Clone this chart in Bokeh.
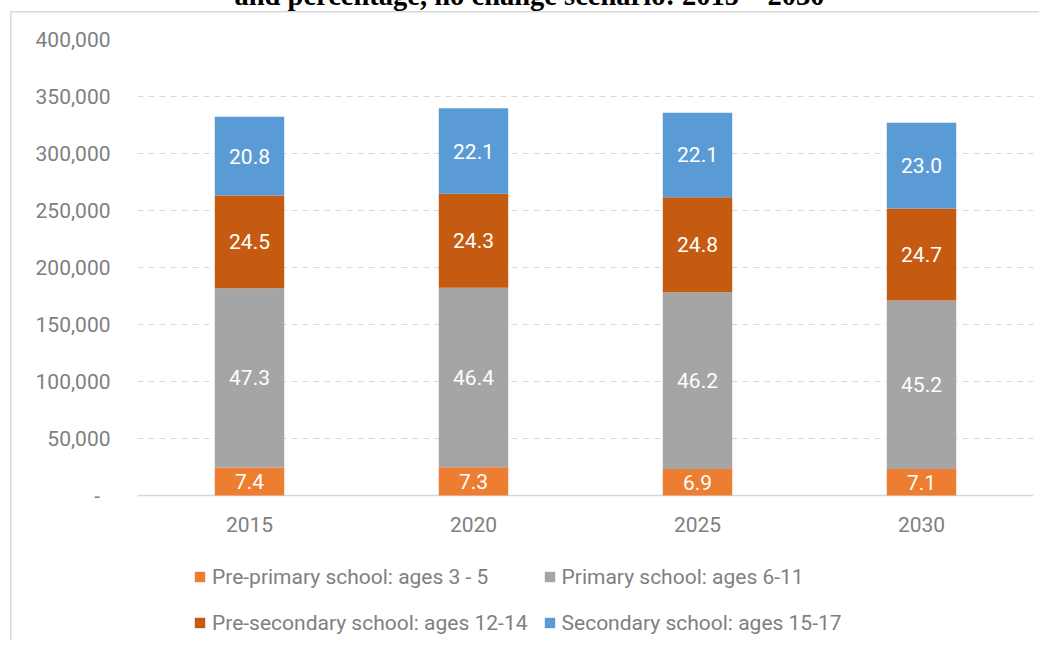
from bokeh.plotting import figure
from bokeh.models import (ColumnDataSource, Legend, LegendItem, FixedTicker, Span,
                          CustomJSTickFormatter, Range1d, FactorRange)
from bokeh.core.properties import value
from bokeh.embed import file_html
from bokeh.resources import INLINE

# ---------------- data ----------------
years = ["2015", "2020", "2025", "2030"]
series_names = ["Pre-primary school: ages 3 - 5", "Primary school: ages 6-11",
                "Pre-secondary school: ages 12-14", "Secondary school: ages 15-17"]
pre_primary = [24600, 24800, 23200, 23200]
primary = [157200, 157400, 155100, 147800]
pre_secondary = [81400, 82400, 83300, 80800]
secondary = [69100, 75000, 74200, 75200]
pct_pre_primary = ["7.4", "7.3", "6.9", "7.1"]
pct_primary = ["47.3", "46.4", "46.2", "45.2"]
pct_pre_secondary = ["24.5", "24.3", "24.8", "24.7"]
pct_secondary = ["20.8", "22.1", "22.1", "23.0"]
y_ticks = [0, 50000, 100000, 150000, 200000, 250000, 300000, 350000, 400000]
title_text = "and percentage, no change scenario: 2015 \u2013 2030"

colors = ["#ED7D31", "#A5A5A5", "#C55A11", "#5B9BD5"]
keys = ["pre_primary", "primary", "pre_secondary", "secondary"]
values_list = [pre_primary, primary, pre_secondary, secondary]
pcts_list = [pct_pre_primary, pct_primary, pct_pre_secondary, pct_secondary]

src = ColumnDataSource(dict(year=years, pre_primary=pre_primary, primary=primary,
                            pre_secondary=pre_secondary, secondary=secondary))

GRAY = "#7f7f7f"
FONT = "Roboto"

# layout (canvas px): frame top = BORDER_TOP, zero line 456 px lower, frame to canvas bottom
BORDER_TOP = 100
SHIFT = 39 - BORDER_TOP          # host offset so the frame top lands at page y=39
H = 640 - SHIFT
Y_TOP = 400000
ZERO_Y = BORDER_TOP + 456
PX_PER_UNIT = 456 / Y_TOP
y_bottom = -(H - ZERO_Y) / PX_PER_UNIT

p = figure(x_range=FactorRange(*years), y_range=Range1d(y_bottom, Y_TOP),
           width=1031, height=H, output_backend="svg", toolbar_location=None,
           min_border_left=129, min_border_right=6, min_border_top=BORDER_TOP,
           min_border_bottom=0)
p.border_fill_color = None
p.background_fill_color = None
p.outline_line_color = None
line_y = 10.5 - SHIFT
p.styles = {
    "margin-top": f"{SHIFT}px",
    "margin-left": "8px",
    "background": (f"linear-gradient(#d9d9d9,#d9d9d9) 1.5px {line_y}px / 100% 1.5px no-repeat, "
                   f"linear-gradient(#d9d9d9,#d9d9d9) 1.5px {line_y}px / 1.5px 100% no-repeat"),
}

# title of the original page (mostly above the visible area, as in the source)
p.title.text = title_text
p.title.text_font = "Liberation Serif"
p.title.text_font_style = "bold"
p.title.text_font_size = "28.5px"
p.title.text_color = "black"
p.title.align = "left"
p.title.offset = 97
p.title.standoff = 58

p.ygrid.ticker = FixedTicker(ticks=y_ticks[1:])
p.ygrid.grid_line_color = "#d9d9d9"
p.ygrid.grid_line_dash = "6 5"
p.ygrid.grid_line_width = 1
p.xgrid.visible = False

# baseline at zero
p.add_layout(Span(location=0, dimension="width", line_color="#d9d9d9",
                  line_width=1.5, level="underlay"))

renderers = p.vbar_stack(keys, x="year", width=0.31, color=colors, source=src,
                         line_color=None)

# data labels (percentages) centred in each segment
bottoms = [0, 0, 0, 0]
for vals, pcts in zip(values_list, pcts_list):
    mids = [b + v / 2 for b, v in zip(bottoms, vals)]
    bottoms = [b + v for b, v in zip(bottoms, vals)]
    lsrc = ColumnDataSource(dict(year=years, y=mids, t=pcts))
    p.text(x="year", y="y", text="t", source=lsrc, text_color="white",
           text_font=value(FONT), text_font_size="21px",
           text_align="center", text_baseline="middle")

# category labels under the baseline (x axis drawn inside the frame)
cat_y = -29 / PX_PER_UNIT
csrc = ColumnDataSource(dict(year=years, y=[cat_y] * len(years)))
p.text(x="year", y="y", text="year", source=csrc, text_color=GRAY,
       text_font=value(FONT), text_font_size="21px",
       text_align="center", text_baseline="middle")
p.xaxis.visible = False

p.yaxis.ticker = FixedTicker(ticks=y_ticks)
p.yaxis.formatter = CustomJSTickFormatter(
    code="return tick == 0 ? '-\\u00a0\\u00a0' : tick.toLocaleString('en-US');")
p.yaxis.axis_line_color = None
p.yaxis.major_tick_line_color = None
p.yaxis.minor_tick_line_color = None
p.yaxis.major_tick_out = 0
p.yaxis.major_tick_in = 0
p.yaxis.major_label_standoff = 27
p.yaxis.major_label_text_font = FONT
p.yaxis.major_label_text_font_size = "21px"
p.yaxis.major_label_text_color = GRAY

# legend (inside the frame, below the categories)
items = [LegendItem(label=n, renderers=[r]) for n, r in zip(series_names, renderers)]
legend = Legend(items=items, location=(56, 2), orientation="horizontal", ncols=2,
                glyph_width=13, glyph_height=13, label_standoff=6, spacing=15,
                label_height=31, padding=0, margin=0, border_line_color=None,
                background_fill_alpha=0, label_text_font=FONT,
                label_text_font_size="21px", label_text_color=GRAY)
p.add_layout(legend, "center")

open("out.html", "w").write(file_html(p, INLINE))
